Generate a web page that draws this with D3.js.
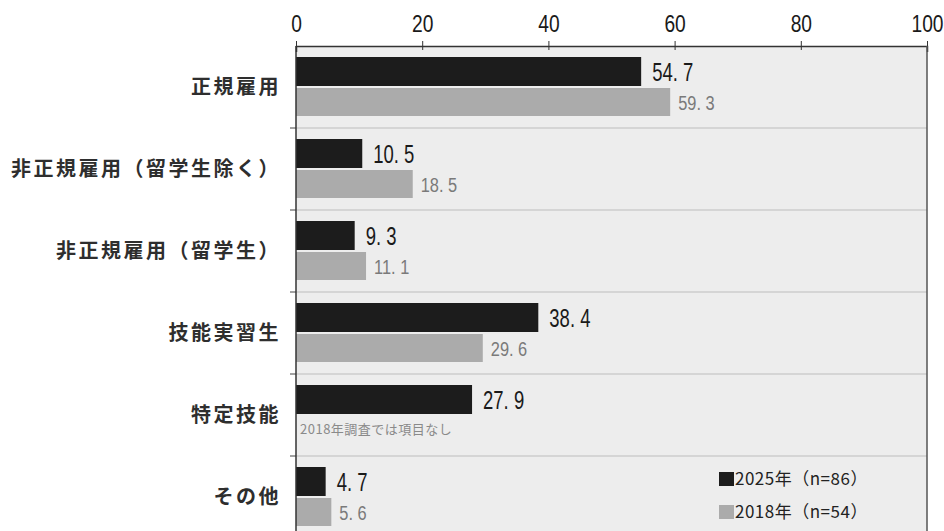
<!DOCTYPE html>
<html><head><meta charset="utf-8">
<script src="https://cdn.jsdelivr.net/npm/d3@7"></script>
<style>
body{margin:0;background:#fff;}
svg{display:block;}
</style></head>
<body><svg id="chart" width="944" height="531"></svg>
<script>
const categories = ["正規雇用","非正規雇用（留学生除く）","非正規雇用（留学生）","技能実習生","特定技能","その他"];
const values2025 = [54.7, 10.5, 9.3, 38.4, 27.9, 4.7];
const values2018 = [59.3, 18.5, 11.1, 29.6, null, 5.6];
const xTicks = [0, 20, 40, 60, 80, 100];
const seriesNames = ["2025年（n=86）", "2018年（n=54）"];
const noItemNote = "2018年調査では項目なし";

(function () {
const svg = d3.select("#chart");
const plotLeft = 296, plotRight = 927, plotTop = 46, rowH = 82;
const numFont = "'Liberation Sans',Arial,sans-serif";
const jpFont = "'Noto Sans CJK JP','Noto Sans',sans-serif";

const x = d3.scaleLinear().domain([0, 100]).range([plotLeft, plotRight]);
const y = d3.scaleBand().domain(categories).range([plotTop, plotTop + rowH * categories.length]).paddingInner(0).paddingOuter(0);

// narrow numerals: horizontally squeezed Liberation Sans
function narrowText(parent, px, py, str, size, sx, fill) {
  return parent.append("text")
    .attr("transform", `translate(${px},${py}) scale(${sx},1)`)
    .attr("dy", "0.36em").attr("font-family", numFont).attr("font-size", size)
    .attr("fill", fill).text(str);
}
const fmt = v => v.toFixed(1).replace(".", ". ");

// plot background
svg.append("rect").attr("x", plotLeft).attr("y", plotTop).attr("width", plotRight - plotLeft).attr("height", 531 - plotTop).attr("fill", "#ededed");

// row dividers
categories.slice(1).forEach(c => {
  svg.append("line").attr("x1", plotLeft).attr("x2", plotRight).attr("y1", y(c)).attr("y2", y(c))
    .attr("stroke", "#cdcdcd").attr("stroke-width", 1.5);
  svg.append("line").attr("x1", plotLeft - 6).attr("x2", plotLeft).attr("y1", y(c)).attr("y2", y(c))
    .attr("stroke", "#444").attr("stroke-width", 1);
});

// bars
const b1 = 11, h1 = 29, b2 = 42, h2 = 28;
svg.append("g").selectAll("rect").data(categories).join("rect")
  .attr("x", x(0)).attr("y", c => y(c) + b1)
  .attr("width", (c, i) => x(values2025[i]) - x(0)).attr("height", h1)
  .attr("fill", "#1c1c1c");
svg.append("g").selectAll("rect").data(categories.filter((c, i) => values2018[i] != null)).join("rect")
  .attr("x", x(0)).attr("y", c => y(c) + b2)
  .attr("width", c => x(values2018[categories.indexOf(c)]) - x(0)).attr("height", h2)
  .attr("fill", "#ababab");

// value labels
const lbl = svg.append("g");
categories.forEach((c, i) => {
  narrowText(lbl, x(values2025[i]) + 11, y(c) + b1 + h1 / 2, fmt(values2025[i]), 25, 0.74, "#1a1a1a");
  if (values2018[i] != null)
    narrowText(lbl, x(values2018[i]) + 8, y(c) + b2 + h2 / 2, fmt(values2018[i]), 21, 0.78, "#7a7a7a");
});

svg.append("text").attr("x", x(0) + 4).attr("y", y("特定技能") + b2 + h2 / 2 - 1).attr("dy", "0.36em")
  .attr("font-family", jpFont).attr("font-size", 13).attr("letter-spacing", "0.5px")
  .attr("fill", "#8a8a8a").text(noItemNote);

// category labels
svg.append("g").selectAll("text").data(categories).join("text")
  .attr("x", 281).attr("y", c => y(c) + y.bandwidth() / 2).attr("dy", "0.36em")
  .attr("text-anchor", "end").attr("font-family", jpFont).attr("font-size", 20)
  .attr("letter-spacing", "2.5px")
  .attr("font-weight", 700).attr("fill", "#2e2e2e").text(c => c);

// top axis
const axis = svg.append("g").attr("transform", `translate(0,${plotTop})`)
  .call(d3.axisTop(x).tickValues(xTicks).tickSize(-6).tickPadding(-2).tickFormat(d3.format("d")));
axis.select(".domain").attr("stroke", "#333").attr("stroke-width", 1.5);
axis.selectAll(".tick line").attr("stroke", "#333").attr("y1", -5).attr("y2", 4);
axis.selectAll(".tick text").attr("font-family", numFont).attr("font-size", 24).attr("fill", "#1a1a1a")
  .attr("y", -14).attr("transform", "scale(0.8,1)");

// left axis + right border
svg.append("line").attr("x1", plotLeft).attr("x2", plotLeft).attr("y1", plotTop).attr("y2", 531).attr("stroke", "#333").attr("stroke-width", 1.5);
svg.append("line").attr("x1", plotRight).attr("x2", plotRight).attr("y1", plotTop).attr("y2", 531).attr("stroke", "#555").attr("stroke-width", 1.5);

// legend
const legend = svg.append("g").attr("transform", "translate(719,479)");
[["#1c1c1c", seriesNames[0]], ["#ababab", seriesNames[1]]].forEach(([col, name], i) => {
  const g = legend.append("g").attr("transform", `translate(0,${i * 33})`);
  g.append("rect").attr("x", 0).attr("y", -7).attr("width", 15).attr("height", 14).attr("fill", col);
  g.append("text").attr("x", 16).attr("y", 0).attr("dy", "0.36em").attr("font-family", jpFont)
    .attr("font-size", 17).attr("letter-spacing", "0.5px").attr("fill", "#222").text(name);
});
})();
</script></body></html>
